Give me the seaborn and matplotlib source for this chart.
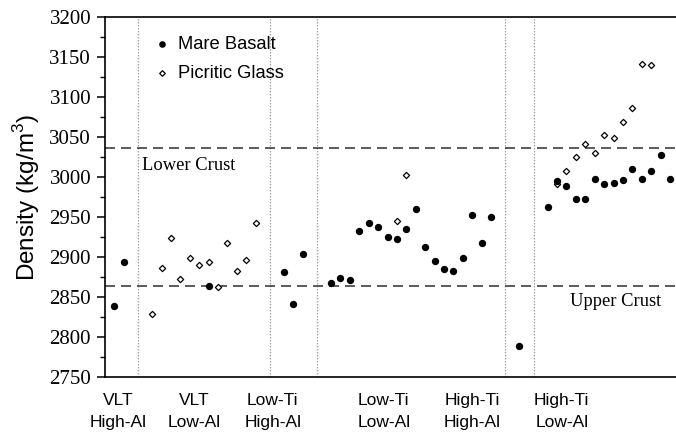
import matplotlib
matplotlib.use("Agg")
import matplotlib.pyplot as plt
from matplotlib.ticker import MultipleLocator
import pandas as pd
import seaborn as sns

# Sample slot along the x axis and bulk density (kg/m^3)
basalt_slot = [0, 1, 10, 18, 19, 20,
               23, 24, 25, 26, 27, 28, 29, 30, 31, 32, 33, 34, 35, 36, 37, 38, 39, 40,
               43,
               46, 47, 48, 49, 50, 51, 52, 53, 54, 55, 56, 57, 58, 59]
basalt_density = [2839, 2893, 2863, 2881, 2841, 2904,
                  2867, 2873, 2871, 2932, 2942, 2938, 2925, 2922, 2935, 2960, 2912, 2895,
                  2885, 2882, 2899, 2953, 2917, 2950,
                  2788,
                  2962, 2995, 2989, 2972, 2972, 2997, 2991, 2993, 2996, 3010, 2998, 3008,
                  3028, 2998]

glass_slot = [4, 5, 6, 7, 8, 9, 10, 11, 12, 13, 14, 15,
              30, 31,
              47, 48, 49, 50, 51, 52, 53, 54, 55, 56, 57]
glass_density = [2828, 2886, 2924, 2872, 2898, 2890, 2893, 2862, 2918, 2882, 2896, 2942,
                 2945, 3002,
                 2991, 3007, 3025, 3041, 3030, 3053, 3049, 3069, 3087, 3141, 3140]

group_labels = ["VLT\nHigh-Al", "VLT\nLow-Al", "Low-Ti\nHigh-Al",
                "Low-Ti\nLow-Al", "High-Ti\nHigh-Al", "High-Ti\nLow-Al"]

lower_crust = 3036
upper_crust = 2863

basalt = pd.DataFrame({"slot": basalt_slot, "density": basalt_density})
glass = pd.DataFrame({"slot": glass_slot, "density": glass_density})

sns.set_style("ticks")
plt.rcParams["font.family"] = ["Liberation Sans", "DejaVu Sans"]
plt.rcParams["mathtext.fontset"] = "custom"
plt.rcParams["mathtext.rm"] = "Liberation Sans"
for key in ("text.color", "axes.labelcolor", "xtick.color", "ytick.color",
            "axes.edgecolor"):
    plt.rcParams[key] = "black"

W, H = 676, 433
fig = plt.figure(figsize=(W / 100, H / 100), dpi=100)
ax = fig.add_axes([105 / W, 1 - 376.7 / H, 1 - 105 / W, 359.4 / H])

# group separators
for xb in [2.5, 16.5, 21.5, 41.5, 44.5]:
    ax.axvline(xb, color="#a0a0a0", lw=0.9, ls=(0, (1.2, 1.2)), zorder=1)

# crust reference densities
for yc in (lower_crust, upper_crust):
    ax.axhline(yc, color="#404040", lw=1.2, ls=(0, (6, 3.6)), zorder=2)

sns.scatterplot(data=glass, x="slot", y="density", marker="D", s=10,
                color="white", edgecolor="black", linewidth=0.9,
                label="Picritic Glass", ax=ax, zorder=3)
sns.scatterplot(data=basalt, x="slot", y="density", marker="o", s=28,
                color="black", edgecolor="black", linewidth=0,
                label="Mare Basalt", ax=ax, zorder=4)

ax.text(2.9, 3009, "Lower Crust", family="Liberation Serif", fontsize=13.3,
        ha="left", va="baseline")
ax.text(48.4, 2838, "Upper Crust", family="Liberation Serif", fontsize=13.3,
        ha="left", va="baseline")

ax.set_xlim(-1, 59.63)
ax.set_ylim(2750, 3200)
ax.set_yticks(range(2750, 3201, 50))
ax.yaxis.set_minor_locator(MultipleLocator(25))
ax.set_xticks([0.36, 8.46, 16.8, 28.6, 38.0, 47.5])
ax.set_xticklabels(group_labels, fontsize=12.5, linespacing=1.6)
ax.tick_params(axis="x", length=0, pad=11.5)
ax.tick_params(axis="y", which="major", direction="out", length=6, width=1.1,
               pad=4, labelsize=15, color="black")
ax.tick_params(axis="y", which="minor", direction="out", length=3.5, width=1.0,
               color="black")
for lab in ax.get_yticklabels():
    lab.set_family("Liberation Serif")

ax.set_xlabel("")
ax.set_ylabel("Density (kg/m$^3$)", fontsize=17.5, labelpad=5)

for side in ("left", "bottom", "top"):
    ax.spines[side].set_visible(True)
    ax.spines[side].set_color("black")
    ax.spines[side].set_linewidth(1.2)
ax.spines["right"].set_visible(False)

handles, labels = ax.get_legend_handles_labels()
ax.legend(handles[::-1], labels[::-1], loc="upper left",
          bbox_to_anchor=(0.084, 0.948), frameon=False, fontsize=13.2,
          borderpad=0, borderaxespad=0, handlelength=1.0, handletextpad=0.39,
          labelspacing=0.65, markerscale=0.9)

fig.savefig("out.png", dpi=100)
